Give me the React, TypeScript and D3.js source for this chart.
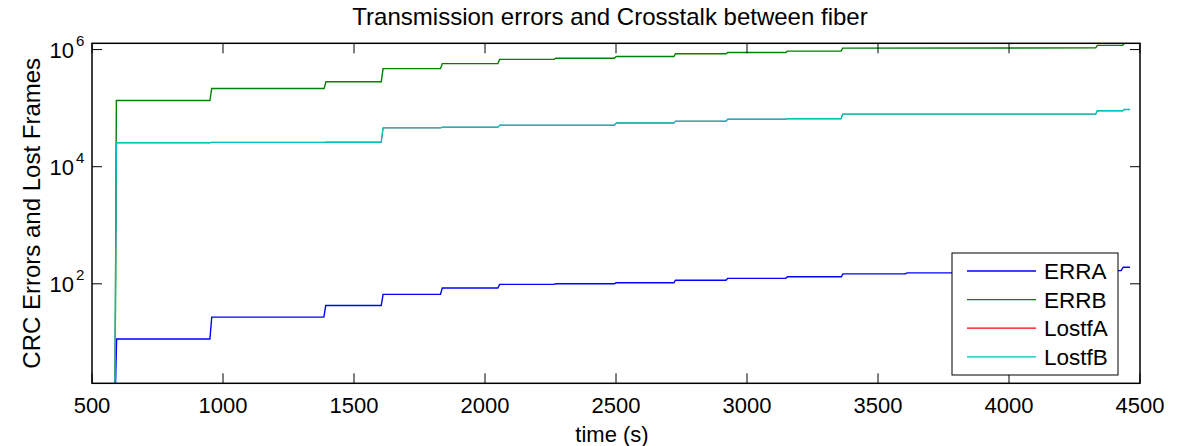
import React from "react";
import * as d3 from "d3";

// Cumulative counters sampled over time: [time (s), count]
const errA: [number, number][] = [
  [590, 2], [594, 11.4], [950, 11.4], [957, 27], [1385, 27], [1392, 42.5],
  [1604, 42.5], [1611, 66], [1830, 66], [1837, 85], [2049, 85], [2056, 98],
  [2264, 98], [2270, 100], [2494, 100], [2500, 104], [2721, 104], [2727, 115],
  [2920, 115], [2926, 124], [3148, 124], [3154, 132], [3360, 132], [3366, 148],
  [3605, 148], [3611, 154], [3830, 154], [3836, 160], [4050, 160], [4056, 164],
  [4270, 164], [4276, 168], [4428, 168], [4436, 192], [4462, 192],
];

const errB: [number, number][] = [
  [588, 2], [593, 1.35e5], [950, 1.35e5], [957, 2.17e5], [1386, 2.17e5],
  [1393, 2.83e5], [1604, 2.83e5], [1611, 4.72e5], [1830, 4.72e5], [1837, 5.75e5],
  [2049, 5.75e5], [2056, 6.8e5], [2264, 6.8e5], [2270, 7.1e5], [2494, 7.1e5],
  [2501, 7.6e5], [2721, 7.6e5], [2727, 8.5e5], [2920, 8.5e5], [2926, 8.9e5],
  [3148, 8.9e5], [3154, 9.4e5], [3359, 9.4e5], [3365, 1.06e6], [4331, 1.07e6],
  [4337, 1.18e6], [4434, 1.18e6], [4440, 1.28e6], [4462, 1.28e6],
];

const lostfB: [number, number][] = [
  [588, 2], [593, 2.57e4], [950, 2.57e4], [957, 2.6e4], [1386, 2.6e4],
  [1393, 2.62e4], [1604, 2.62e4], [1611, 4.6e4], [1830, 4.6e4], [1837, 4.72e4],
  [2049, 4.72e4], [2056, 5.1e4], [2494, 5.1e4], [2501, 5.57e4], [2721, 5.57e4],
  [2727, 5.97e4], [2920, 5.97e4], [2926, 6.46e4], [3148, 6.46e4], [3154, 6.6e4],
  [3359, 6.6e4], [3365, 7.9e4], [4331, 7.9e4], [4337, 9.0e4], [4434, 9.0e4],
  [4440, 9.5e4], [4462, 9.5e4],
];

// Lost frames on fiber A track fiber B exactly
const lostfA: [number, number][] = lostfB.map(([t, v]) => [t, v]);

const seriesNames = ["ERRA", "ERRB", "LostfA", "LostfB"];
const seriesColors = ["#0000ff", "#008000", "#ff0000", "#00bfbf"];
const seriesWidths = [1.4, 1.4, 0.8, 1.4];
const seriesData = [errA, errB, lostfA, lostfB];

const xTicks = [500, 1000, 1500, 2000, 2500, 3000, 3500, 4000, 4500];
const yTickExponents = [2, 4, 6];

const W = 1188;
const H = 446;
const M = { left: 92, right: 1140, top: 43.3, bottom: 383.3 };
const FONT = "'Liberation Sans', Arial, Helvetica, sans-serif";
const FS = 22;

export default function App() {
  const allValues = seriesData.flat().map((d) => d[1]);
  const [yMin, yMax] = d3.extent(allValues) as [number, number];

  const x = d3.scaleLinear().domain([500, 4500]).range([M.left, M.right]);
  const y = d3.scaleLog().domain([yMin, yMax]).range([M.bottom, M.top]);

  const line = d3
    .line<[number, number]>()
    .x((d) => x(d[0]))
    .y((d) => y(d[1]));

  const tickLen = 10;
  const legend = { x: 952, y: 253, w: 166, h: 122, rowH: 28.6 };

  return (
    <svg
      width={W}
      height={H}
      style={{ position: "absolute", left: 0, top: 0, background: "#fff" }}
      fontFamily={FONT}
    >
      <defs>
        <clipPath id="plot-area">
          <rect x={M.left} y={M.top} width={M.right - M.left} height={M.bottom - M.top} />
        </clipPath>
      </defs>
      <rect x={0} y={0} width={W} height={H} fill="#fff" />

      {/* data lines */}
      <g clipPath="url(#plot-area)">
        {seriesData.map((s, i) => (
          <path
            key={seriesNames[i]}
            d={line(s) || ""}
            fill="none"
            stroke={seriesColors[i]}
            strokeWidth={seriesWidths[i]}
          />
        ))}
      </g>

      {/* axes box */}
      <rect
        x={M.left}
        y={M.top}
        width={M.right - M.left}
        height={M.bottom - M.top}
        fill="none"
        stroke="#000"
        strokeWidth={1.5}
      />

      {/* x ticks (bottom and top) */}
      {xTicks.map((t) => (
        <g key={`x${t}`}>
          <line x1={x(t)} x2={x(t)} y1={M.bottom} y2={M.bottom - tickLen} stroke="#000" strokeWidth={1} />
          <line x1={x(t)} x2={x(t)} y1={M.top} y2={M.top + tickLen} stroke="#000" strokeWidth={1} />
          <text x={x(t)} y={413} textAnchor="middle" fontSize={FS} fill="#000">
            {t}
          </text>
        </g>
      ))}

      {/* y ticks (left and right) */}
      {yTickExponents.map((e) => {
        const yy = y(Math.pow(10, e));
        return (
          <g key={`y${e}`}>
            <line x1={M.left} x2={M.left + tickLen} y1={yy} y2={yy} stroke="#000" strokeWidth={1} />
            <line x1={M.right} x2={M.right - tickLen} y1={yy} y2={yy} stroke="#000" strokeWidth={1} />
            <text x={74} y={yy + 8.5} textAnchor="end" fontSize={FS} fill="#000">
              10
            </text>
            <text x={76} y={yy - 4} textAnchor="start" fontSize={15} fill="#000">
              {e}
            </text>
          </g>
        );
      })}

      {/* title and axis labels */}
      <text x={610} y={25} textAnchor="middle" fontSize={24} fill="#000">
        Transmission errors and Crosstalk between fiber
      </text>
      <text x={612} y={442} textAnchor="middle" fontSize={FS} fill="#000">
        time (s)
      </text>
      <text
        transform={`translate(40,${(M.top + M.bottom) / 2}) rotate(-90)`}
        textAnchor="middle"
        fontSize={24}
        fill="#000"
      >
        CRC Errors and Lost Frames
      </text>

      {/* legend */}
      <g>
        <rect x={legend.x} y={legend.y} width={legend.w} height={legend.h} fill="#fff" stroke="#000" strokeWidth={1} />
        {seriesNames.map((name, i) => {
          const cy = legend.y + 18 + i * legend.rowH;
          return (
            <g key={name}>
              <line x1={legend.x + 15} x2={legend.x + 84} y1={cy} y2={cy} stroke={seriesColors[i]} strokeWidth={1.3} />
              <text x={legend.x + 92} y={cy + 8} fontSize={22.5} fill="#000">
                {name}
              </text>
            </g>
          );
        })}
      </g>
    </svg>
  );
}
